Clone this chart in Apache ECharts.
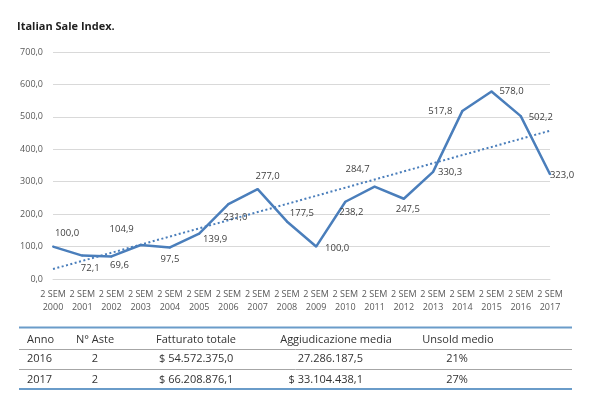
<!DOCTYPE html>
<html>
<head>
<meta charset="utf-8">
<script src="https://cdn.jsdelivr.net/npm/echarts@6/dist/echarts.min.js"></script>
<style>
  html, body { margin: 0; padding: 0; background: #fff; }
  #chart { width: 590px; height: 399px; }
</style>
</head>
<body>
<div id="chart"></div>
<script>
// chart data
var semesters = ["2000", "2001", "2002", "2003", "2004", "2005", "2006", "2007", "2008",
                 "2009", "2010", "2011", "2012", "2013", "2014", "2015", "2016", "2017"];
var indexValues = [100.0, 72.1, 69.6, 104.9, 97.5, 139.9, 231.0, 277.0, 177.5,
                   100.0, 238.2, 284.7, 247.5, 330.3, 517.8, 578.0, 502.2, 323.0];
// linear trend, start and end value
var trendEnds = [30.7, 457.3];
var yTicks = [0, 100, 200, 300, 400, 500, 600, 700];

// table under the chart
var tableHeader = ["Anno", "N° Aste", "Fatturato totale", "Aggiudicazione media", "Unsold medio"];
var tableRows = [
  ["2016", "2", "$ 54.572.375,0", "27.286.187,5", "21%"],
  ["2017", "2", "$ 66.208.876,1", "$ 33.104.438,1", "27%"]
];

// label nudges (Excel placed each label by hand)
var labelNudge = [[14, -13], [8, 13], [8, 9], [-19, -16], [0, 12], [16, 6], [7, 13], [10, -13], [15, -8],
                  [21, 2], [6, 11], [-17, -17], [4, 11], [17, 0], [-22, 0], [20, 0], [20, 1], [12, 1]];

var blue = "#4a7ebb";
var txt = "#595959";
var font = "'Open Sans', 'Noto Sans', sans-serif";

function fmt(v) {
  return v.toFixed(1).replace(".", ",");
}

var lineData = indexValues.map(function (v, i) {
  return { value: v, label: { offset: labelNudge[i] } };
});
var trendData = semesters.map(function (s, i) {
  if (i === 0) return trendEnds[0];
  if (i === semesters.length - 1) return trendEnds[1];
  return null;
});

// table as graphic elements
var colX = [27, 95, 196, 336, 458];
var cellX = [27, 95, 159, 363, 457];
var cellAlign = ["left", "center", "left", "right", "center"];
var rowY = [340, 359, 380];
var graphics = [];
graphics.push({ type: "text", left: 17, top: 21,
  style: { text: "Italian Sale Index.", font: "bold 11px " + font, fill: "#1f1f1f" } });
tableHeader.forEach(function (h, c) {
  graphics.push({ type: "text", x: colX[c], y: rowY[0],
    style: { text: h, font: "11px " + font, fill: "#333", align: c === 0 ? "left" : "center", verticalAlign: "middle" } });
});
tableRows.forEach(function (row, r) {
  row.forEach(function (cell, c) {
    graphics.push({ type: "text", x: cellX[c], y: rowY[r + 1],
      style: { text: cell, font: "11px " + font, fill: "#333", align: cellAlign[c], verticalAlign: "middle" } });
  });
});
[[327.5, "#6a9cc9", 2], [349.5, "#a6a6a6", 1], [369.5, "#a6a6a6", 1], [389, "#6a9cc9", 2]].forEach(function (l) {
  graphics.push({ type: "line", shape: { x1: 19, y1: l[0], x2: 572, y2: l[0] },
    style: { stroke: l[1], lineWidth: l[2] } });
});

var option = {
  animation: false,
  textStyle: { fontFamily: font },
  grid: { left: 53, right: 40, top: 52, bottom: 120 },
  xAxis: {
    type: "category",
    data: semesters,
    boundaryGap: false,
    axisLine: { lineStyle: { color: "#d9d9d9" } },
    axisTick: { show: false },
    axisLabel: {
      interval: 0,
      margin: 9,
      color: txt,
      fontSize: 9,
      lineHeight: 13,
      formatter: function (v) { return "2 SEM\n" + v; }
    }
  },
  yAxis: {
    type: "value",
    min: yTicks[0],
    max: yTicks[yTicks.length - 1],
    interval: 100,
    axisLine: { show: false },
    axisTick: { show: false },
    splitLine: { lineStyle: { color: "#d9d9d9" } },
    axisLabel: { color: txt, fontSize: 9, margin: 10, formatter: function (v) { return fmt(v); } }
  },
  series: [
    {
      type: "line",
      data: lineData,
      symbol: "circle",
      symbolSize: 2,
      itemStyle: { color: blue },
      lineStyle: { color: blue, width: 2.5 },
      label: {
        show: true,
        position: "inside",
        color: "#404040",
        fontSize: 9.5,
        formatter: function (p) { return fmt(p.value); }
      },
      z: 3
    },
    {
      type: "line",
      data: trendData,
      connectNulls: true,
      symbol: "none",
      lineStyle: { color: blue, width: 2, type: [2, 2.5] },
      z: 2
    }
  ],
  graphic: graphics
};

var myChart = echarts.init(document.getElementById("chart"));
myChart.setOption(option);
</script>
</body>
</html>
